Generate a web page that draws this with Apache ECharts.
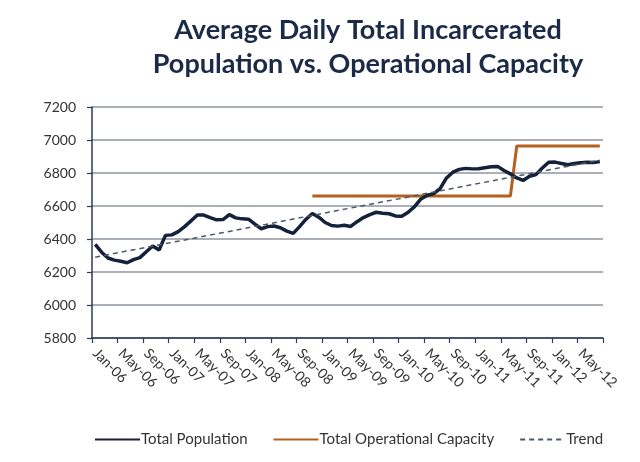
<!DOCTYPE html>
<html>
<head>
<meta charset="utf-8">
<script src="https://cdn.jsdelivr.net/npm/echarts@6/dist/echarts.min.js"></script>
<style>
html,body{margin:0;padding:0;background:#fff;}
#chart{width:640px;height:462px;}
</style>
</head>
<body>
<div id="chart"></div>
<script>
const months = [
 'Jan-06','Feb-06','Mar-06','Apr-06','May-06','Jun-06','Jul-06','Aug-06','Sep-06','Oct-06','Nov-06','Dec-06',
 'Jan-07','Feb-07','Mar-07','Apr-07','May-07','Jun-07','Jul-07','Aug-07','Sep-07','Oct-07','Nov-07','Dec-07',
 'Jan-08','Feb-08','Mar-08','Apr-08','May-08','Jun-08','Jul-08','Aug-08','Sep-08','Oct-08','Nov-08','Dec-08',
 'Jan-09','Feb-09','Mar-09','Apr-09','May-09','Jun-09','Jul-09','Aug-09','Sep-09','Oct-09','Nov-09','Dec-09',
 'Jan-10','Feb-10','Mar-10','Apr-10','May-10','Jun-10','Jul-10','Aug-10','Sep-10','Oct-10','Nov-10','Dec-10',
 'Jan-11','Feb-11','Mar-11','Apr-11','May-11','Jun-11','Jul-11','Aug-11','Sep-11','Oct-11','Nov-11','Dec-11',
 'Jan-12','Feb-12','Mar-12','Apr-12','May-12','Jun-12','Jul-12','Aug-12'
];

const totalPopulation = [
 6368,6320,6285,6272,6265,6256,6275,6287,6323,6358,6333,6422,
 6425,6445,6475,6510,6545,6545,6530,6516,6518,6548,6528,6522,
 6520,6490,6462,6475,6479,6468,6448,6434,6475,6520,6555,6532,
 6500,6482,6478,6483,6476,6505,6530,6548,6562,6556,6553,6540,
 6538,6562,6596,6643,6665,6675,6705,6770,6805,6822,6828,6825,
 6826,6832,6838,6840,6815,6795,6770,6755,6780,6790,6830,6865,
 6866,6858,6850,6857,6862,6865,6863,6869
];

const capacityStart = 'Nov-08';
const capacityLowValue = 6660;
const capacityStepMonth = 'Jul-11';
const capacityHighValue = 6964;

const trendMonths = ['Jan-06','Aug-12'];
const trendValues = [6290, 6878];

const yTicks = [5800,6000,6200,6400,6600,6800,7000,7200];

// build capacity series from the values above
const capacity = months.map((m,i) => {
  const s = months.indexOf(capacityStart), st = months.indexOf(capacityStepMonth);
  if (i < s) return null;
  return i < st ? capacityLowValue : capacityHighValue;
});
const trend = trendMonths.map((m,i) => [m, trendValues[i]]);

const FONT = 'Lato';
const chart = echarts.init(document.getElementById('chart'), null, {renderer:'canvas'});
chart.setOption({
  animation: false,
  backgroundColor: '#ffffff',
  title: {
    text: 'Average Daily Total Incarcerated\nPopulation vs. Operational Capacity',
    left: 363, top: 8, textAlign: 'center',
    textStyle: {fontFamily: FONT, fontWeight: 'bold', fontSize: 27, lineHeight: 34, color: '#1b2a47'}
  },
  legend: {
    left: 89, top: 427,
    itemWidth: 45, itemHeight: 12, itemGap: 25,
    itemStyle: {opacity: 0},
    textStyle: {fontFamily: FONT, fontSize: 15, color: '#333', padding:[0,0,0,-4]},
    data: ['Total Population','Total Operational Capacity','Trend']
  },
  grid: {left: 92, right: 37, top: 107, bottom: 124, containLabel: false},
  xAxis: {
    type: 'category', data: months, boundaryGap: true,
    axisLine: {lineStyle: {color: '#2b3a55', width: 1.5}},
    axisTick: {show: true, interval: 3, length: 5, lineStyle: {color: '#2b3a55', width: 1.2}},
    axisLabel: {interval: 3, rotate: -45, margin: 13, fontFamily: FONT, fontSize: 14, color: '#333'},
    splitLine: {show: false}
  },
  yAxis: {
    type: 'value', min: yTicks[0], max: yTicks[yTicks.length-1], interval: 200,
    axisLine: {show: true, lineStyle: {color: '#2b3a55', width: 1.5}},
    axisTick: {show: true, length: 5, lineStyle: {color: '#2b3a55', width: 1.2}},
    axisLabel: {fontFamily: FONT, fontSize: 14, color: '#333', margin: 16, formatter: v => String(v)},
    splitLine: {lineStyle: {color: '#8f959e', width: 1.5}}
  },
  series: [
    {name: 'Total Population', type: 'line', data: totalPopulation, symbol: 'none', smooth: false,
     lineStyle: {color: '#14213b', width: 3.5}, itemStyle: {color: '#14213b'}, z: 3},
    {name: 'Total Operational Capacity', type: 'line', data: capacity, symbol: 'none',
     lineStyle: {color: '#b4601f', width: 3}, itemStyle: {color: '#b4601f'}, z: 2},
    {name: 'Trend', type: 'line', data: trend, symbol: 'none',
     lineStyle: {color: '#4e5869', width: 1.5, type: [5,4]}, itemStyle: {color: '#4e5869'}, z: 4}
  ]
});
</script>
</body>
</html>
